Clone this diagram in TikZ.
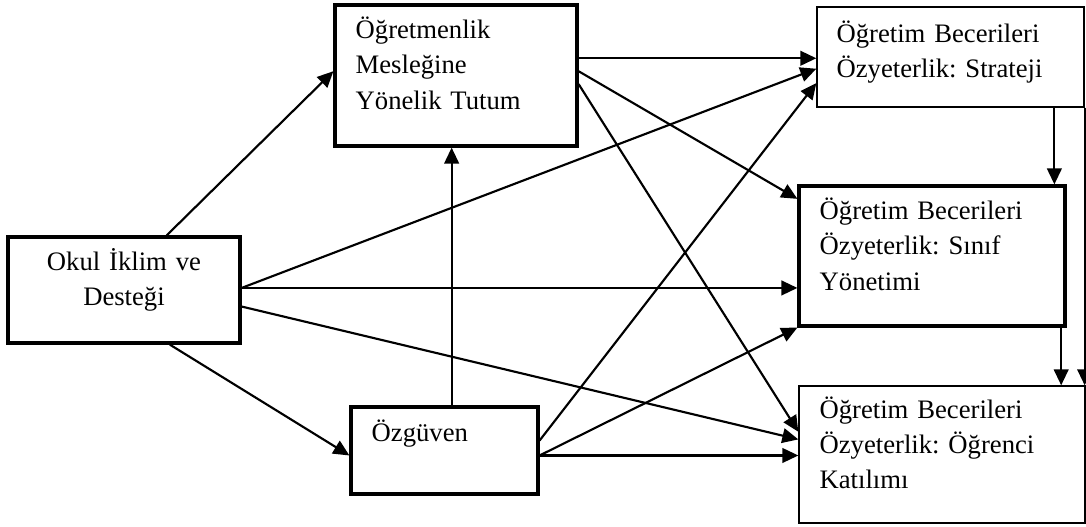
\documentclass[tikz,border=0pt]{standalone}
\usepackage{fontspec}
\setmainfont{Liberation Serif}
\usetikzlibrary{arrows.meta,calc}
\frenchspacing

\begin{document}
\begin{tikzpicture}[x=0.75pt,y=-0.75pt,
  box/.style={draw, inner sep=0pt},
  thickbox/.style={box, line width=2.4pt},
  thinbox/.style={box, line width=1pt},
  txt/.style={font=\fontsize{20}{26.5}\selectfont, inner sep=0pt, text width=175pt, align=left},
  ctxt/.style={font=\fontsize{20}{26.5}\selectfont, inner sep=0pt, text width=160pt, align=center},
  arr/.style={line width=1.6pt, -{Triangle[length=12pt,width=11pt]}}]

\useasboundingbox (0,0) rectangle (1086,527);

% boxes
\node[thickbox, minimum width=174pt,    minimum height=79.5pt]   (okul)  at (124,290)    {};
\node[thickbox, minimum width=181.5pt,  minimum height=105.75pt] (tutum) at (456,75.5)   {};
\node[thickbox, minimum width=140.25pt, minimum height=65.25pt]  (ozg)   at (444.5,450.5) {};
\node[thinbox,  minimum width=200.25pt, minimum height=75pt]     (strat) at (950.5,57)   {};
\node[thickbox, minimum width=199.5pt,  minimum height=105pt]    (sinif) at (932,256)    {};
\node[thinbox,  minimum width=214.5pt,  minimum height=102.75pt] (katil) at (942,454.5)  {};

% box texts
\node[ctxt, anchor=base] (okultxt) at ([shift={(0,35)}]okul.north) {Okul İklim ve\\Desteği};
\node[txt, anchor=base west] (tutumtxt) at ([shift={(22,35)}]tutum.north west) {Öğretmenlik\\Mesleğine\\Yönelik Tutum};
\node[txt, anchor=base west] (ozgtxt) at ([shift={(22,36)}]ozg.north west) {Özgüven};
\node[txt, anchor=base west] (strattxt) at ([shift={(20,36)}]strat.north west) {Öğretim Becerileri\\Özyeterlik: Strateji};
\node[txt, anchor=base west] (siniftxt) at ([shift={(22,35)}]sinif.north west) {Öğretim Becerileri\\Özyeterlik: Sınıf\\Yönetimi};
\node[txt, anchor=base west] (katiltxt) at ([shift={(21,33)}]katil.north west) {Öğretim Becerileri\\Özyeterlik: Öğrenci\\Katılımı};

% paths from the school climate box
\draw[arr] (okul.52.27) -- (tutum.178.3);
\draw[arr] (okul.1.97) -- (strat.185.99);
\draw[arr] (okul.1.97) -- (okul.1.97 -| sinif.west);
\draw[arr] (okul.-8.34) -- (katil.174.2);
\draw[arr] (okul.-50.95) -- (ozg.183.37);

% paths from self-confidence
\draw[arr] (ozg.81.5) -- (ozg.81.5 |- tutum.south);
\draw[arr] (ozg.6.41) -- (strat.191.86);
\draw[arr] (ozg.-3.37) -- (sinif.south west);
\draw[arr] (ozg.-3.37) -- (ozg.-3.37 -| katil.west);

% paths from attitude
\draw[arr] (tutum.8.23) -- (tutum.8.23 -| strat.west);
\draw[arr] (tutum.2.13) -- (sinif.157.43);
\draw[arr] (tutum.-4.49) -- (katil.171.85);

% paths among the self-efficacy boxes
\draw[arr] (strat.-26.45) -- (strat.-26.45 |- sinif.north);
\draw[arr] (sinif.-29.52) -- (sinif.-29.52 |- katil.north);
\draw[arr] (strat.south east) -- (strat.south east |- katil.north);
\end{tikzpicture}
\end{document}
